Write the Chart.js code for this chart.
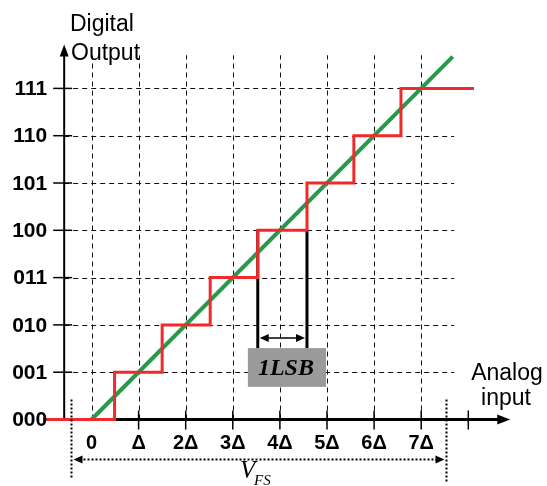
<!DOCTYPE html>
<html>
<head>
<meta charset="utf-8">
<script src="https://cdn.jsdelivr.net/npm/chart.js@4.4.0/dist/chart.umd.min.js"></script>
<style>
  html, body { margin: 0; padding: 0; background: #fff; }
  #wrap { width: 547px; height: 486px; }
</style>
</head>
<body>
<div id="wrap"><canvas id="adc-chart" width="547" height="486"></canvas></div>
<script>
// output codes and input tick labels
const codeLabels = ['000', '001', '010', '011', '100', '101', '110', '111'];
const inputLabels = ['0', 'Δ', '2Δ', '3Δ', '4Δ', '5Δ', '6Δ', '7Δ'];

// quantizer transfer curve (step edges in units of Δ, as drawn)
const stepEdges = [-1.03, 0.49, 1.5, 2.52, 3.53, 4.575, 5.57, 6.57, 8.12];
const stepCodes = [0, 1, 2, 3, 4, 5, 6, 7, 7];

// ideal straight line
const idealInput = [0, 7.67];
const idealCode = [0, 7.67];

// 1 LSB marker and full-scale span
const lsbFrom = 3.53, lsbTo = 4.575;
const vfsFrom = -0.44, vfsTo = 7.53;

// layout bits (data units)
const gridEnd = 7.7;
const yAxisAt = -0.58;
const xAxisEnd = 8.89;
const yAxisEnd = 7.93;
const extraTick = 8;
const lsbBox = { x0: 3.32, x1: 4.98, y0: 0.69, y1: 1.51 };

const RED = '#ee2a2a';
const GREEN = '#28984a';
const SANS = '"Liberation Sans", Arial, sans-serif';
const SERIF = '"Liberation Serif", "Times New Roman", serif';

function seg(ctx, x1, y1, x2, y2) {
  ctx.beginPath();
  ctx.moveTo(x1, y1);
  ctx.lineTo(x2, y2);
  ctx.stroke();
}

function arrowHead(ctx, x, y, angle, len, half) {
  ctx.save();
  ctx.translate(x, y);
  ctx.rotate(angle);
  ctx.beginPath();
  ctx.moveTo(0, 0);
  ctx.lineTo(-len, -half);
  ctx.lineTo(-len, half);
  ctx.closePath();
  ctx.fill();
  ctx.restore();
}

const crisp = v => Math.round(v) + 0.5;

const adcDecor = {
  id: 'adcDecor',
  beforeDatasetsDraw(chart) {
    const { ctx, scales: { x, y } } = chart;
    const px = v => x.getPixelForValue(v);
    const py = v => y.getPixelForValue(v);
    ctx.save();

    // dashed grid
    ctx.strokeStyle = '#111';
    ctx.lineWidth = 1;
    ctx.setLineDash([5, 4]);
    inputLabels.forEach((_, i) => seg(ctx, crisp(px(i)), py(0), crisp(px(i)), py(gridEnd)));
    codeLabels.forEach((_, j) => {
      if (j > 0) seg(ctx, px(yAxisAt), crisp(py(j)), px(gridEnd), crisp(py(j)));
    });
    ctx.setLineDash([]);

    // axes
    ctx.strokeStyle = '#000';
    ctx.fillStyle = '#000';
    ctx.lineWidth = 2;
    seg(ctx, px(yAxisAt), py(0), px(yAxisAt), py(yAxisEnd) + 8);
    arrowHead(ctx, px(yAxisAt), py(yAxisEnd), -Math.PI / 2, 12, 4.5);
    ctx.lineWidth = 3;
    seg(ctx, px(yAxisAt), py(0), px(xAxisEnd) - 8, py(0));
    arrowHead(ctx, px(xAxisEnd), py(0), 0, 13, 5);

    // tick marks
    ctx.lineWidth = 1.5;
    codeLabels.forEach((_, j) => {
      if (j > 0) seg(ctx, px(yAxisAt) - 11, py(j), px(yAxisAt) + 8, py(j));
    });
    inputLabels.forEach((_, i) => {
      if (i > 0) seg(ctx, px(i), py(0) - 9, px(i), py(0) + 10);
    });
    seg(ctx, px(extraTick), py(0) - 9, px(extraTick), py(0) + 10);

    // 1LSB verticals
    ctx.lineWidth = 3;
    seg(ctx, px(lsbFrom), py(4), px(lsbFrom), py(lsbBox.y1));
    seg(ctx, px(lsbTo), py(4), px(lsbTo), py(lsbBox.y1));
    ctx.restore();
  },
  afterDatasetsDraw(chart) {
    const { ctx, scales: { x, y } } = chart;
    const px = v => x.getPixelForValue(v);
    const py = v => y.getPixelForValue(v);
    ctx.save();
    ctx.fillStyle = '#000';
    ctx.strokeStyle = '#000';

    // 1LSB double arrow and box
    const ay = py(lsbBox.y1) - 10;
    ctx.lineWidth = 1.5;
    seg(ctx, px(lsbFrom) + 4, ay, px(lsbTo) - 4, ay);
    arrowHead(ctx, px(lsbFrom) + 2, ay, Math.PI, 9, 4);
    arrowHead(ctx, px(lsbTo) - 2, ay, 0, 9, 4);
    ctx.fillStyle = '#9a9a9a';
    ctx.fillRect(px(lsbBox.x0), py(lsbBox.y1), px(lsbBox.x1) - px(lsbBox.x0), py(lsbBox.y0) - py(lsbBox.y1));
    ctx.fillStyle = '#000';
    ctx.font = 'italic bold 24px ' + SERIF;
    ctx.textAlign = 'center';
    ctx.textBaseline = 'middle';
    ctx.fillText('1LSB', (px(lsbBox.x0) + px(lsbBox.x1)) / 2 - 1, (py(lsbBox.y0) + py(lsbBox.y1)) / 2 + 1);

    // tick labels
    ctx.font = 'bold 21px ' + SANS;
    ctx.textAlign = 'right';
    codeLabels.forEach((lab, j) => ctx.fillText(lab, px(yAxisAt) - 17, py(j) + 1));
    ctx.textAlign = 'center';
    ctx.font = 'bold 20px ' + SANS;
    inputLabels.forEach((lab, i) => ctx.fillText(lab, px(i), py(0) + 24));

    // axis titles
    ctx.font = '23px ' + SANS;
    ctx.textAlign = 'left';
    ctx.textBaseline = 'alphabetic';
    ctx.fillText('Digital', 70, 31);
    ctx.fillText('Output', 71, 60);
    ctx.textAlign = 'center';
    ctx.fillText('Analog', 507, 380);
    ctx.fillText('input', 506, 405);

    // V_FS span
    ctx.lineWidth = 2;
    ctx.setLineDash([2, 2]);
    const xa = crisp(px(vfsFrom)), xb = crisp(px(vfsTo));
    const vy = py(0) + 40;
    seg(ctx, xa, py(0) - 20, xa, py(0) + 60);
    seg(ctx, xb, py(0) - 20, xb, py(0) + 62);
    seg(ctx, xa + 8, vy, xb - 8, vy);
    ctx.setLineDash([]);
    arrowHead(ctx, xa + 2, vy, Math.PI, 9, 4);
    arrowHead(ctx, xb - 2, vy, 0, 9, 4);
    ctx.textAlign = 'left';
    ctx.font = 'italic 25px ' + SERIF;
    ctx.fillText('V', 240, 478);
    ctx.font = 'italic 15px ' + SERIF;
    ctx.fillText('FS', 254, 485);
    ctx.restore();
  }
};

new Chart(document.getElementById('adc-chart'), {
  type: 'line',
  data: {
    datasets: [
      {
        label: 'Quantized output',
        data: stepEdges.map((v, i) => ({ x: v, y: stepCodes[i] })),
        borderColor: RED,
        borderWidth: 3,
        stepped: 'before',
        pointRadius: 0,
        fill: false,
        order: 0
      },
      {
        label: 'Ideal',
        data: idealInput.map((v, i) => ({ x: v, y: idealCode[i] })),
        borderColor: GREEN,
        borderWidth: 4,
        borderCapStyle: 'butt',
        pointRadius: 0,
        fill: false,
        order: 1
      }
    ]
  },
  options: {
    responsive: false,
    animation: false,
    layout: { padding: { left: 20.85, right: 31.6, top: 12.72, bottom: 5.0 } },
    plugins: { legend: { display: false }, tooltip: { enabled: false } },
    scales: {
      x: { type: 'linear', min: -1.5, max: 9.0, display: false },
      y: { type: 'linear', min: -1.3, max: 8.6, display: false }
    }
  },
  plugins: [adcDecor]
});
</script>
</body>
</html>
